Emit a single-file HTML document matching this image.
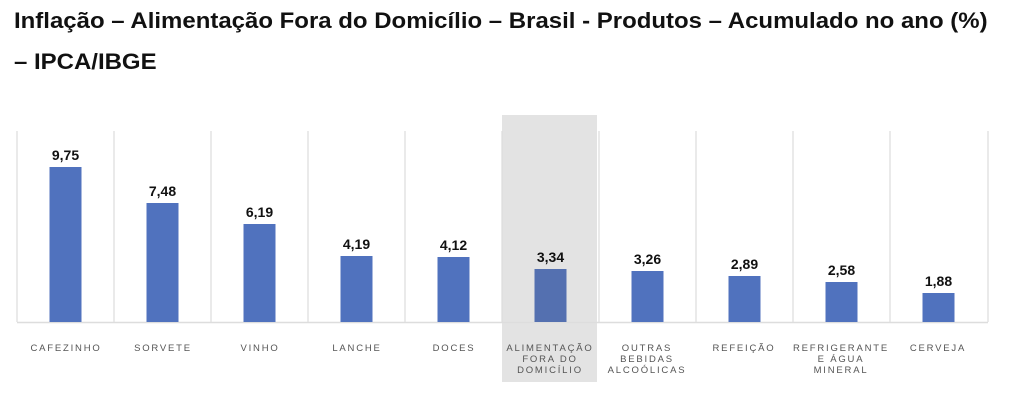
<!DOCTYPE html>
<html><head><meta charset="utf-8"><style>
body{margin:0;background:#fff;width:1024px;height:400px;overflow:hidden;font-family:"Liberation Sans",sans-serif}
.t{position:absolute;left:14px;font-weight:bold;font-size:22px;color:#111;white-space:nowrap;transform:scaleX(1.09);transform-origin:0 0}
</style></head><body>
<div class="t" style="top:8px">Inflação – Alimentação Fora do Domicílio – Brasil - Produtos – Acumulado no ano (%)</div>
<div class="t" style="top:49px">– IPCA/IBGE</div>
<svg width="1024" height="400" style="position:absolute;left:0;top:0" font-family="Liberation Sans, sans-serif">
<rect x="502" y="115" width="95" height="267" fill="#e3e3e3"/>
<g stroke="#ddd" stroke-width="1.2">
<line x1="17" y1="131" x2="17" y2="322"/><line x1="114" y1="131" x2="114" y2="322"/><line x1="211" y1="131" x2="211" y2="322"/><line x1="308" y1="131" x2="308" y2="322"/><line x1="405" y1="131" x2="405" y2="322"/><line x1="502" y1="131" x2="502" y2="322"/><line x1="599" y1="131" x2="599" y2="322"/><line x1="696" y1="131" x2="696" y2="322"/><line x1="793" y1="131" x2="793" y2="322"/><line x1="890" y1="131" x2="890" y2="322"/><line x1="988" y1="131" x2="988" y2="322"/>
<line x1="17" y1="322.5" x2="988" y2="322.5" stroke-width="1.5"/>
</g>
<g fill="#5072be">
<rect x="49.5" y="167" width="32" height="155"/>
<rect x="146.5" y="203" width="32" height="119"/>
<rect x="243.5" y="224" width="32" height="98"/>
<rect x="340.5" y="256" width="32" height="66"/>
<rect x="437.5" y="257" width="32" height="65"/>
<rect x="534.5" y="269" width="32" height="53" fill="#5470b0"/>
<rect x="631.5" y="271" width="32" height="51"/>
<rect x="728.5" y="276" width="32" height="46"/>
<rect x="825.5" y="282" width="32" height="40"/>
<rect x="922.5" y="293" width="32" height="29"/>
</g>
<g font-weight="bold" font-size="14" fill="#111" text-anchor="middle">
<text x="65.5" y="160">9,75</text><text x="162.5" y="196">7,48</text><text x="259.5" y="217">6,19</text><text x="356.5" y="249">4,19</text><text x="453.5" y="250">4,12</text><text x="550.5" y="262">3,34</text><text x="647.5" y="264">3,26</text><text x="744.5" y="269">2,89</text><text x="841.5" y="275">2,58</text><text x="938.5" y="286">1,88</text>
</g>
<g font-size="9.5" fill="#555" text-anchor="middle" letter-spacing="1.8">
<text x="66" y="351">CAFEZINHO</text><text x="163" y="351">SORVETE</text><text x="260" y="351">VINHO</text><text x="357" y="351">LANCHE</text><text x="454" y="351">DOCES</text>
<text x="550" y="351">ALIMENTAÇÃO</text><text x="550" y="362">FORA DO</text><text x="550" y="373">DOMICÍLIO</text>
<text x="647" y="351">OUTRAS</text><text x="647" y="362">BEBIDAS</text><text x="647" y="373">ALCOÓLICAS</text>
<text x="744" y="351">REFEIÇÃO</text>
<text x="841" y="351">REFRIGERANTE</text><text x="841" y="362">E ÁGUA</text><text x="841" y="373">MINERAL</text>
<text x="938" y="351">CERVEJA</text>
</g>
</svg>
</body></html>
